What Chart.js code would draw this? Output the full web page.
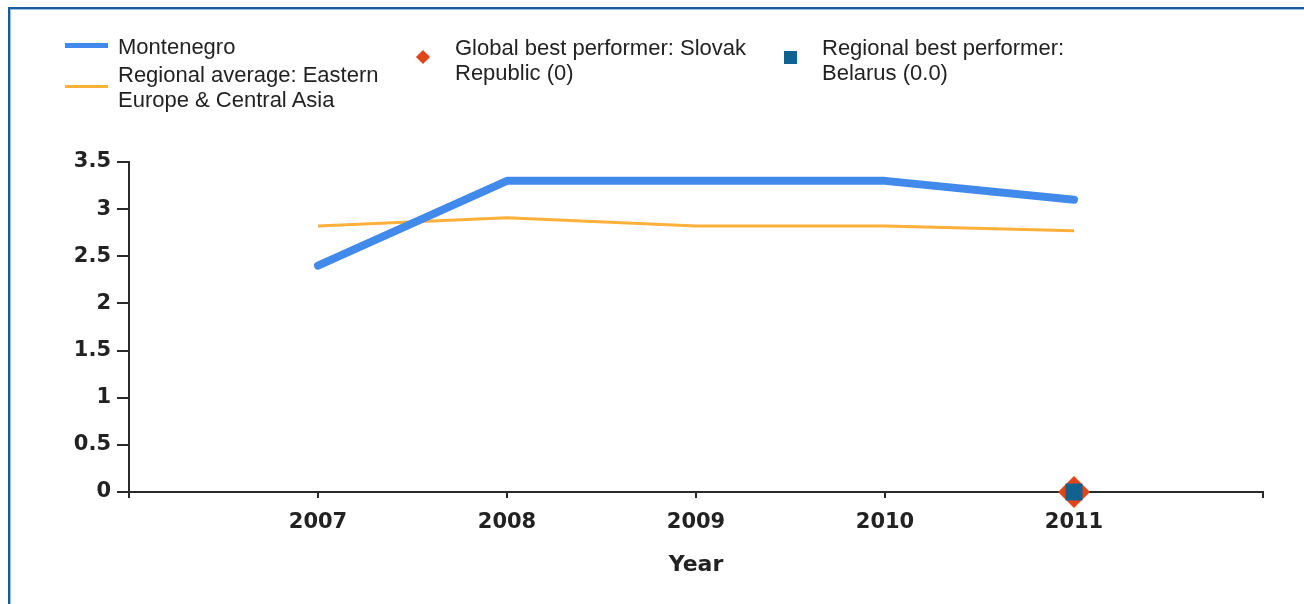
<!DOCTYPE html>
<html>
<head>
<meta charset="utf-8">
<script src="https://cdn.jsdelivr.net/npm/chart.js@4.4.1/dist/chart.umd.min.js"></script>
<style>
  body { margin: 0; background: #fff; overflow: hidden; }
  #wrap { position: relative; width: 1304px; height: 604px; }
  #frame {
    position: absolute; left: 8px; top: 7px; width: 1400px; height: 700px;
    border-top: 2px solid #1b5a9c; border-left: 2px solid #1b5a9c;
    box-shadow: inset 1px 1px 0 #9cc0e6;
  }
  #legend { position: absolute; left: 0; top: 0; font-family: "Liberation Sans", Arial, sans-serif; font-size: 22px; color: #222; }
  .item { position: absolute; }
  .item .txt { position: absolute; white-space: pre; line-height: 25px; }
  .item .ico { position: absolute; }
  canvas { position: absolute; left: 0; top: 0; }
</style>
</head>
<body>
<div id="wrap">
  <div id="frame"></div>
  <canvas id="chart" width="1304" height="604"></canvas>
  <div id="legend"></div>
</div>
<script>
// data
const years = [2007, 2008, 2009, 2010, 2011];
const montenegro = [2.4, 3.3, 3.3, 3.3, 3.1];
const regionalAvg = [2.82, 2.91, 2.82, 2.82, 2.77];
const bestYear = [2011];
const globalBest = [0];
const regionalBest = [0];

const seriesNames = [
  "Montenegro",
  "Regional average: Eastern\nEurope & Central Asia",
  "Global best performer: Slovak\nRepublic (0)",
  "Regional best performer:\nBelarus (0.0)"
];

const blue = "#4189ea";
const orange = "#fdb03a";
const red = "#e0461a";
const teal = "#12628f";
const axisColor = "#2a2a2a";

function pts(xs, ys) {
  return xs.map((x, i) => ({ x: x, y: ys[i] }));
}

const chart = new Chart("chart", {
  type: "line",
  data: {
    datasets: [
      {
        label: seriesNames[0], data: pts(years, montenegro),
        borderColor: blue, backgroundColor: blue, borderWidth: 8,
        borderCapStyle: "round", borderJoinStyle: "round",
        pointRadius: 0, order: 1, clip: false
      },
      {
        label: seriesNames[1], data: pts(years, regionalAvg),
        borderColor: orange, backgroundColor: orange, borderWidth: 3,
        pointRadius: 0, order: 2, clip: false
      },
      {
        label: seriesNames[2], data: pts(bestYear, globalBest),
        showLine: false, pointStyle: "rectRot", pointRadius: 16,
        pointBackgroundColor: red, pointBorderWidth: 0, order: 4, clip: false
      },
      {
        label: seriesNames[3], data: pts(bestYear, regionalBest),
        showLine: false, pointStyle: "rect", pointRadius: 12,
        pointBackgroundColor: teal, pointBorderWidth: 0, order: 3, clip: false
      }
    ]
  },
  options: {
    responsive: false,
    animation: false,
    layout: { padding: { top: 162, right: 41, left: 0, bottom: 0 } },
    plugins: { legend: { display: false }, tooltip: { enabled: false } },
    scales: {
      x: {
        type: "linear", min: 2006, max: 2012,
        afterFit: function (s) { s.height = 112; },
        border: { display: true, color: axisColor, width: 2 },
        grid: { display: true, drawOnChartArea: false, drawTicks: true, tickLength: 6, color: axisColor, lineWidth: 2 },
        ticks: {
          stepSize: 1, autoSkip: false, maxRotation: 0, padding: 12, color: "#222",
          font: { family: "DejaVu Sans", size: 21, weight: "bold" },
          callback: function (v) { return years.includes(v) ? String(v) : ""; }
        },
        title: {
          display: true, text: "Year", color: "#222",
          font: { family: "DejaVu Sans", size: 22, weight: "bold" },
          padding: { top: 0, bottom: 26 }
        }
      },
      y: {
        min: 0, max: 3.5,
        afterFit: function (s) { s.width = 129; },
        border: { display: true, color: axisColor, width: 2 },
        grid: { display: true, drawOnChartArea: false, drawTicks: true, tickLength: 12, color: axisColor, lineWidth: 2 },
        ticks: {
          stepSize: 0.5, padding: 6, color: "#222",
          font: { family: "DejaVu Sans", size: 21, weight: "bold" },
          callback: function (v) { return String(Math.round(v * 10) / 10); }
        }
      }
    }
  }
});

// html legend, laid out in columns like the original
const legendSpots = [
  { left: 65, icoTop: 43, textTop: 34 },
  { left: 65, icoTop: 85, textTop: 62 },
  { left: 415, icoTop: 52, textTop: 35 },
  { left: 782, icoTop: 51, textTop: 35 }
];
const legend = document.getElementById("legend");
chart.data.datasets.forEach(function (ds, i) {
  const spot = legendSpots[i];
  const item = document.createElement("div");
  item.className = "item";
  item.style.left = spot.left + "px";
  item.style.top = "0px";
  const ico = document.createElement("div");
  ico.className = "ico";
  if (i === 0) {
    ico.style.cssText = "left:0;top:" + spot.icoTop + "px;width:43px;height:5px;background:" + blue;
  } else if (i === 1) {
    ico.style.cssText = "left:0;top:" + spot.icoTop + "px;width:43px;height:3px;background:" + orange;
  } else if (i === 2) {
    ico.style.cssText = "left:3px;top:" + spot.icoTop + "px;width:10px;height:10px;transform:rotate(45deg);background:" + red;
  } else {
    ico.style.cssText = "left:2px;top:" + spot.icoTop + "px;width:13px;height:13px;background:" + teal;
  }
  const txt = document.createElement("div");
  txt.className = "txt";
  txt.style.left = (i < 2 ? 53 : 40) + "px";
  txt.style.top = spot.textTop + "px";
  txt.textContent = ds.label;
  item.appendChild(ico);
  item.appendChild(txt);
  legend.appendChild(item);
});
</script>
</body>
</html>
